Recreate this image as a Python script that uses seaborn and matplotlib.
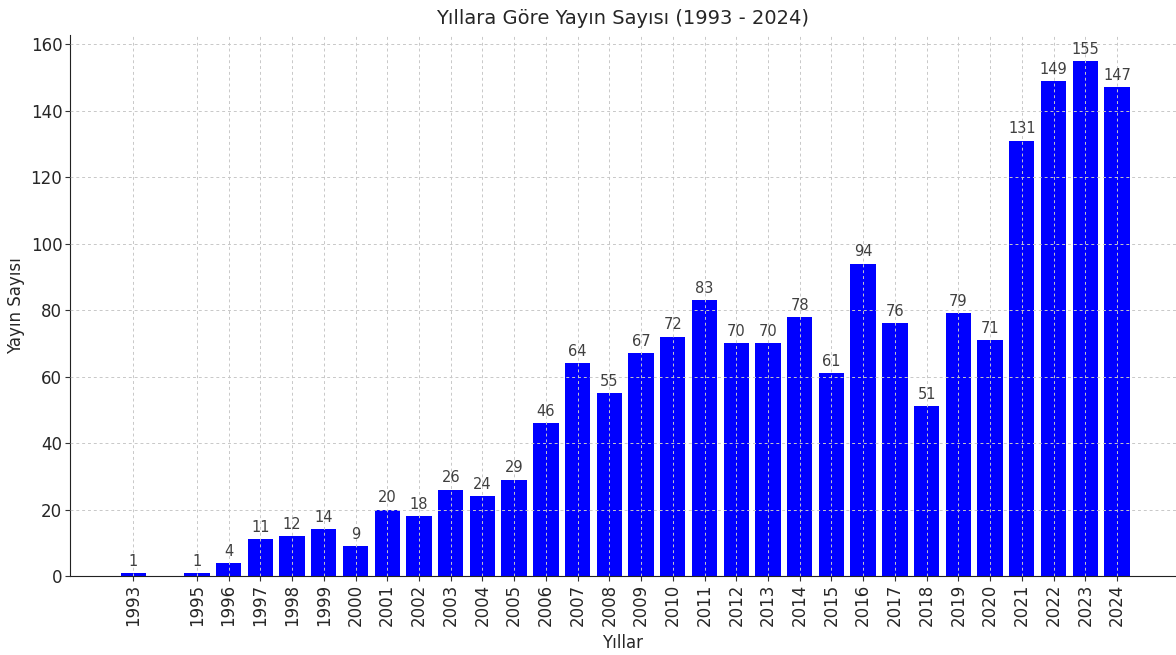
import matplotlib
matplotlib.use("Agg")
import matplotlib.pyplot as plt
import seaborn as sns

years = [1993, 1995, 1996, 1997, 1998, 1999, 2000, 2001, 2002, 2003, 2004,
         2005, 2006, 2007, 2008, 2009, 2010, 2011, 2012, 2013, 2014, 2015,
         2016, 2017, 2018, 2019, 2020, 2021, 2022, 2023, 2024]
counts = [1, 1, 4, 11, 12, 14, 9, 20, 18, 26, 24,
          29, 46, 64, 55, 67, 72, 83, 70, 70, 78, 61,
          94, 76, 51, 79, 71, 131, 149, 155, 147]

sns.set_style("white")
plt.rcParams["font.family"] = ["DejaVu Sans"]

fig = plt.figure(figsize=(11.76, 6.55), dpi=100)
ax = fig.add_axes([0.0595, 0.1206, 0.9405, 0.826])

sns.barplot(x=years, y=counts, native_scale=True, color="#0000ff",
            saturation=1, width=0.8, linewidth=0, ax=ax)

for bar, val in zip(ax.patches, counts):
    ax.annotate(str(val), (bar.get_x() + bar.get_width() / 2, bar.get_height()),
                xytext=(0, 3), textcoords="offset points",
                ha="center", va="bottom", fontsize=10.5, color="#404040")

ax.set_xticks(years)
ax.set_xticklabels([str(y) for y in years], rotation=90, fontsize=12)
ax.tick_params(axis="y", labelsize=12)
ax.tick_params(axis="both", direction="out", length=3.5, width=0.8, color="#333333",
               bottom=True, left=True, pad=2)
ax.set_xlim(1991.0, 2025.86)
ax.set_ylim(0, 162.75)

ax.grid(True, linestyle=(0, (3, 3)), color="#c8c8c8", linewidth=0.7)
ax.set_axisbelow(False)

sns.despine(ax=ax)
ax.spines["left"].set_color("#222222")
ax.spines["bottom"].set_color("#222222")

ax.set_title("Yıllara Göre Yayın Sayısı (1993 - 2024)", fontsize=14, pad=8)
ax.set_xlabel("Yıllar", fontsize=12, labelpad=6)
ax.set_ylabel("Yayın Sayısı", fontsize=12, labelpad=4)

fig.savefig("out.png", dpi=100)
